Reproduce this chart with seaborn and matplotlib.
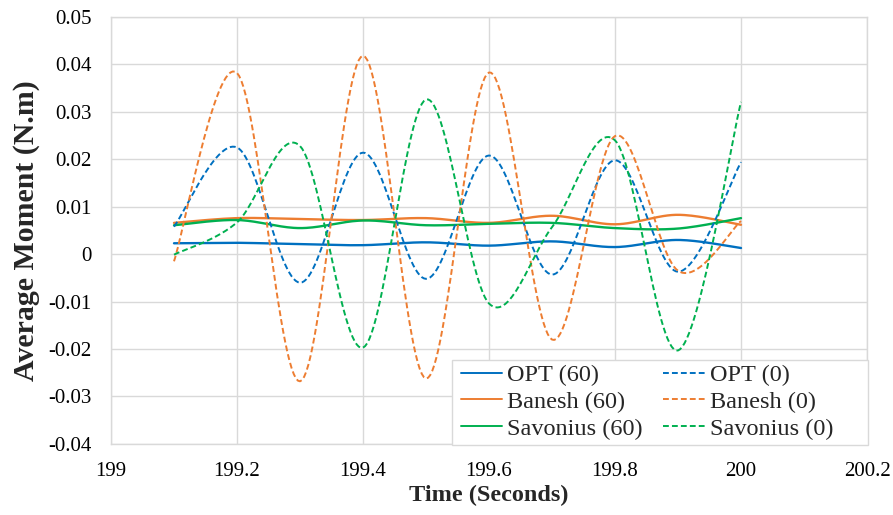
import numpy as np
import pandas as pd
import matplotlib
matplotlib.use("Agg")
import matplotlib.pyplot as plt
import seaborn as sns
from matplotlib.lines import Line2D
from matplotlib.patches import Rectangle

# data
time = [199.1, 199.2, 199.3, 199.4, 199.5, 199.6, 199.7, 199.8, 199.9, 200.0]
opt_60 = [0.0023, 0.0024, 0.0021, 0.0019, 0.0025, 0.0018, 0.0027, 0.0015, 0.0030, 0.0013]
banesh_60 = [0.0066, 0.0076, 0.0074, 0.0072, 0.0076, 0.0066, 0.0081, 0.0063, 0.0083, 0.0062]
savonius_60 = [0.0061, 0.0072, 0.0055, 0.0071, 0.0061, 0.0064, 0.0066, 0.0055, 0.0054, 0.0076]
opt_0 = [0.0058, 0.0225, -0.0060, 0.0214, -0.0052, 0.0208, -0.0043, 0.0198, -0.0037, 0.0194]
banesh_0 = [-0.0015, 0.0382, -0.0268, 0.0418, -0.0262, 0.0383, -0.0180, 0.0249, -0.0035, 0.0070]
savonius_0 = [-0.0001, 0.0067, 0.0228, -0.0197, 0.0326, -0.0104, 0.0057, 0.0240, -0.0203, 0.0321]

x_ticks = [199, 199.2, 199.4, 199.6, 199.8, 200, 200.2]
x_tick_labels = ["199", "199.2", "199.4", "199.6", "199.8", "200", "200.2"]
y_ticks = [-0.04, -0.03, -0.02, -0.01, 0, 0.01, 0.02, 0.03, 0.04, 0.05]
y_tick_labels = ["-0.04", "-0.03", "-0.02", "-0.01", "0", "0.01", "0.02", "0.03", "0.04", "0.05"]

BLUE, ORANGE, GREEN = "#0070C0", "#ED7D31", "#00B050"
series = [
    ("OPT (60)", opt_60, BLUE, "-"),
    ("Banesh (60)", banesh_60, ORANGE, "-"),
    ("Savonius (60)", savonius_60, GREEN, "-"),
    ("OPT (0)", opt_0, BLUE, "--"),
    ("Banesh (0)", banesh_0, ORANGE, "--"),
    ("Savonius (0)", savonius_0, GREEN, "--"),
]


def smooth(xs, ys, n=30):
    # excel style smoothed line (catmull-rom through the points)
    p = np.column_stack([xs, ys]).astype(float)
    p = np.vstack([p[0], p, p[-1]])
    out = []
    t = np.linspace(0, 1, n, endpoint=False)[:, None]
    for i in range(1, len(p) - 2):
        p0, p1, p2, p3 = p[i - 1], p[i], p[i + 1], p[i + 2]
        c1 = p1 + (p2 - p0) / 6
        c2 = p2 - (p3 - p1) / 6
        seg = ((1 - t) ** 3) * p1 + 3 * ((1 - t) ** 2) * t * c1 + 3 * (1 - t) * t ** 2 * c2 + t ** 3 * p2
        out.append(seg)
    out.append(p[-2][None, :])
    out = np.vstack(out)
    return out[:, 0], out[:, 1]


sns.set_theme(style="white")
plt.rcParams["font.family"] = ["Liberation Serif", "DejaVu Serif"]

W, H = 893, 515
fig = plt.figure(figsize=(W / 100, H / 100), dpi=100)
ax = fig.add_axes([0.1243, 0.138, 0.8466, 0.829])

handles = []
for name, vals, color, ls in series:
    sx, sy = smooth(time, vals)
    df = pd.DataFrame({"t": sx, "v": sy})
    sns.lineplot(data=df, x="t", y="v", ax=ax, color=color, sort=False,
                 estimator=None, linewidth=1.7 if ls == "-" else 1.4,
                 linestyle=ls, dashes=False)
    if ls == "--":
        ax.lines[-1].set_dashes([3, 1.6])
    handles.append(Line2D([0], [0], color=color, lw=1.4, linestyle=ls,
                          dashes=[3, 1.6] if ls == "--" else (None, None)))

ax.set_xlim(199, 200.2)
ax.set_ylim(-0.04, 0.05)
ax.set_xticks(x_ticks)
ax.set_xticklabels(x_tick_labels)
ax.set_yticks(y_ticks)
ax.set_yticklabels(y_tick_labels)
ax.tick_params(axis="both", labelsize=15, length=0, colors="#000000")
ax.tick_params(axis="x", pad=13)
ax.tick_params(axis="y", pad=14)
ax.grid(True, color="#D9D9D9", linewidth=1)
for sp in ax.spines.values():
    sp.set_color("#D9D9D9")
    sp.set_linewidth(1)

ax.set_xlabel("Time (Seconds)", fontsize=17.5, fontweight="bold", labelpad=3)
ax.set_ylabel("Average Moment (N.m)", fontsize=21.5, fontweight="bold", labelpad=6)

# legend box (white, light grey edge) like the excel one
box = Rectangle((452 / W, 1 - 445 / H), 416 / W, 85 / H, transform=fig.transFigure,
                facecolor="white", edgecolor="#D9D9D9", linewidth=1, zorder=4.5, clip_on=False)
ax.add_patch(box)
leg = ax.legend(handles, [s[0] for s in series], ncol=2, loc="upper left",
                bbox_to_anchor=(461 / W, 1 - 364 / H), bbox_transform=fig.transFigure,
                fontsize=17.5, frameon=False, borderaxespad=0, borderpad=0,
                handlelength=1.7, handletextpad=0.2, columnspacing=0.85,
                labelspacing=0.2)
leg.set_zorder(5)

fig.savefig("out.png", dpi=100)
